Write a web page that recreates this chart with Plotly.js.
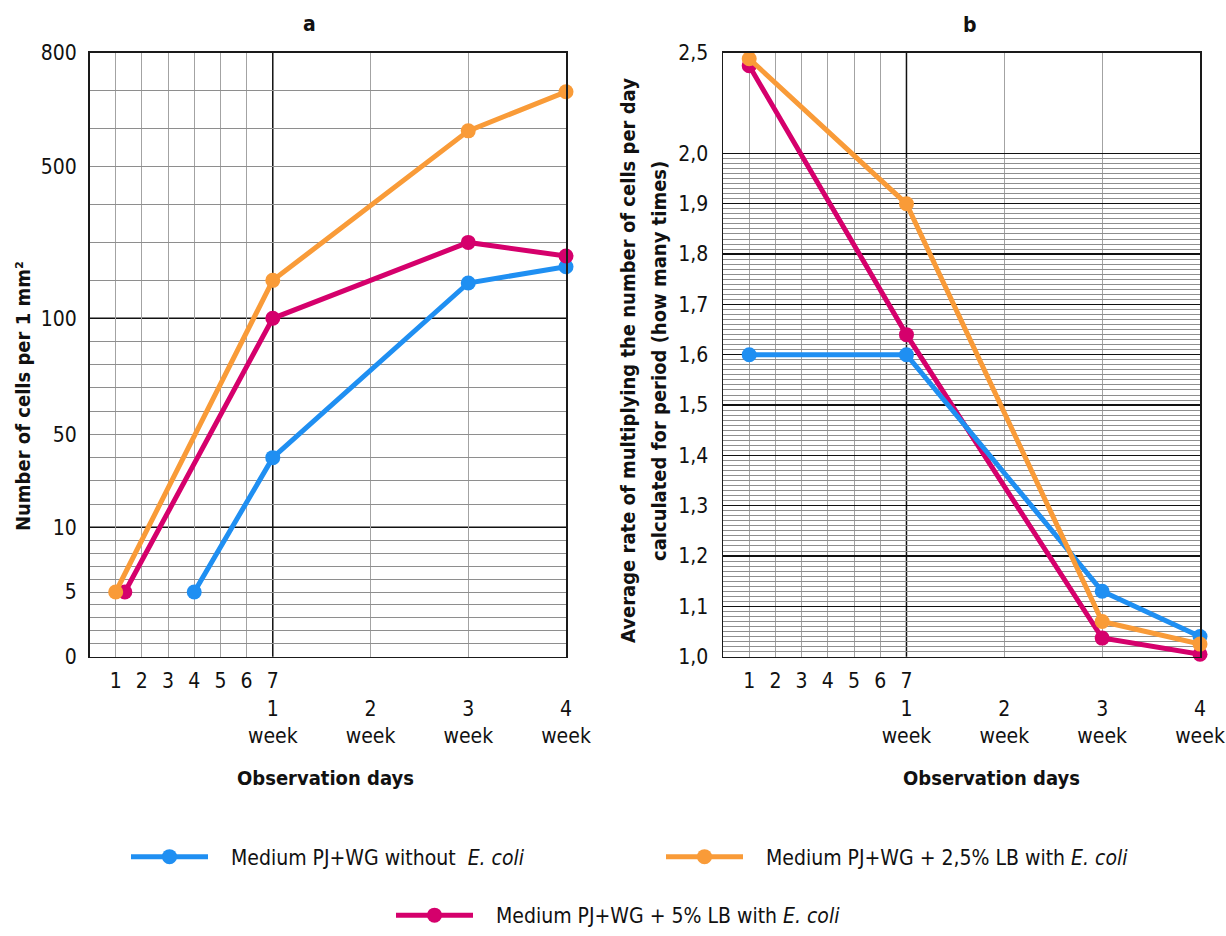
<!DOCTYPE html>
<html><head><meta charset="utf-8">
<script src="https://cdn.plot.ly/plotly-3.0.1.min.js"></script>
<style>html,body{margin:0;padding:0;background:#fff}#chart{width:1226px;height:936px}</style>
</head><body><div id="chart"></div>
<script>
// ---------- data ----------
const dayTicks = [1, 2, 3, 4, 5, 6, 7];
const weekNumbers = ['1', '2', '3', '4'];
const weekDays = [7, 14, 21, 28];
const seriesNames = [
  'Medium PJ+WG without  <i>E. coli</i>',
  'Medium PJ+WG + 2,5% LB with <i>E. coli</i>',
  'Medium PJ+WG + 5% LB with <i>E. coli</i>'
];
const colors = ['#1f8ff2', '#f99b38', '#d5006c'];

// panel a: number of cells per 1 mm2
const aBlueDays = [4, 7, 21, 28];
const aBlueCells = [5, 40, 193, 236];
const aOrangeDays = [1, 7, 21, 28];
const aOrangeCells = [5, 200, 594, 697];
const aMagentaDays = [1.35, 7, 21, 28];
const aMagentaCells = [5, 100, 300, 264];
const aYTickValues = [0, 5, 10, 50, 100, 500, 800];

// panel b: average rate of multiplying per day
const bBlueDays = [1, 7, 21, 28];
const bBlueRate = [1.6, 1.6, 1.13, 1.04];
const bOrangeDays = [1, 7, 21, 28];
const bOrangeRate = [2.47, 1.9, 1.07, 1.025];
const bMagentaDays = [1, 7, 21, 28];
const bMagentaRate = [2.435, 1.64, 1.037, 1.005];
const bYTickValues = [1.0, 1.1, 1.2, 1.3, 1.4, 1.5, 1.6, 1.7, 1.8, 1.9, 2.0, 2.5];

// ---------- scales (the chart uses broken, piecewise axes) ----------
const WEEK_UNIT = 3.733;            // width of one week relative to one day
function xPos(d) { return d <= 7 ? d : 7 + (d - 7) / 7 * WEEK_UNIT; }
function piecewise(breaks, lens) {
  return function (v) {
    for (let i = 1; i < breaks.length; i++) {
      if (v <= breaks[i] || i === breaks.length - 1) {
        return lens[i - 1] + (v - breaks[i - 1]) / (breaks[i] - breaks[i - 1]) * (lens[i] - lens[i - 1]);
      }
    }
  };
}
const aScale = piecewise([0, 10, 100, 800], [0, 129.4, 338.4, 604]);
const bScale = piecewise([1, 2, 2.5], [0, 502.4, 603]);

// minor grid values
const aMinor = [];
for (let v = 1; v < 10; v++) aMinor.push(v);
for (let v = 20; v < 100; v += 10) aMinor.push(v);
for (let v = 200; v < 800; v += 100) aMinor.push(v);
const bMinor = [];
for (let i = 101; i < 200; i++) if (i % 10) bMinor.push(i / 100);
const xMinorDays = [1, 2, 3, 4, 5, 6, 14, 21];

// x tick labels: days 1..7 on the first line, weeks on two lines beneath
const xTickVals = dayTicks.map(xPos).concat(weekDays.slice(1).map(xPos));
const xTickText = dayTicks.map(d => d === 7 ? '7<br>' + weekNumbers[0] + '<br>week' : String(d))
  .concat(weekNumbers.slice(1).map(w => '\u00a0<br>' + w + '<br>week'));

const fontFamily = '"DejaVu Sans Condensed", "DejaVu Sans", sans-serif';
const W = 1226, H = 936;
const px = x => x / W, py = y => 1 - y / H;
const xDomA = [px(89.5), px(566)], xDomB = [px(723), px(1200)];
const yDom = [py(656.7), py(52.7)];
const xRange = [0, xPos(28)];
const tickFont = { family: fontFamily, size: 21, color: '#111' };
const GRID = '#a3a3a3', HGRID = '#8e8e8e', DARK = '#111';

function dayAxis(domain, anchor) {
  return {
    domain, anchor, range: xRange, fixedrange: true,
    tickmode: 'array', tickvals: xTickVals, ticktext: xTickText, tickangle: 0,
    showgrid: false,
    minor: { tickmode: 'array', tickvals: xMinorDays.map(xPos), showgrid: true, gridcolor: GRID, gridwidth: 1, ticks: '' },
    ticks: '', ticklen: 0, showline: true, mirror: true, linecolor: '#1a1a1a', linewidth: 1.5, zeroline: false,
    tickfont: tickFont, ticklabelstandoff: 5
  };
}

function trace(days, vals, scale, ci, xa, ya, show, legend) {
  return {
    type: 'scatter', mode: 'lines+markers',
    x: days.map(xPos), y: vals.map(scale),
    xaxis: xa, yaxis: ya,
    name: '\u00a0\u00a0\u00a0' + seriesNames[ci], showlegend: show, legend: legend,
    line: { color: colors[ci], width: 5 },
    marker: { color: colors[ci], size: 15 },
    hoverinfo: 'skip', cliponaxis: false
  };
}

const data = [
  trace(aBlueDays, aBlueCells, aScale, 0, 'x', 'y', true, 'legend'),
  trace(aMagentaDays, aMagentaCells, aScale, 2, 'x', 'y', true, 'legend3'),
  trace(aOrangeDays, aOrangeCells, aScale, 1, 'x', 'y', true, 'legend2'),
  trace(bMagentaDays, bMagentaRate, bScale, 2, 'x2', 'y2', false, 'legend3'),
  trace(bBlueDays, bBlueRate, bScale, 0, 'x2', 'y2', false, 'legend'),
  trace(bOrangeDays, bOrangeRate, bScale, 1, 'x2', 'y2', false, 'legend2')
];

const legendBase = {
  orientation: 'h', xanchor: 'left', yanchor: 'middle', bgcolor: 'rgba(0,0,0,0)',
  font: { family: fontFamily, size: 21, color: '#111' }, itemwidth: 77
};

const darkLine = (xref, yref, x0, x1, y0, y1) => ({
  type: 'line', xref, yref, x0, x1, y0, y1, layer: 'below', line: { color: DARK, width: 1.5 }
});
const ann = (text, x, y, size, angle) => ({
  text, x: px(x), y: py(y), xref: 'paper', yref: 'paper', xanchor: 'center', yanchor: 'middle',
  showarrow: false, textangle: angle || 0, font: { family: fontFamily, size, color: '#111' }
});

const layout = {
  width: W, height: H, margin: { l: 0, r: 0, t: 0, b: 0 },
  paper_bgcolor: '#fff', plot_bgcolor: 'rgba(0,0,0,0)',
  font: { family: fontFamily, color: '#111' },
  xaxis: dayAxis(xDomA, 'y'),
  xaxis2: dayAxis(xDomB, 'y2'),
  yaxis: {
    domain: yDom, anchor: 'x', range: [0, 604], fixedrange: true,
    tickmode: 'array', tickvals: aYTickValues.map(aScale), ticktext: aYTickValues.map(String),
    showgrid: false,
    minor: { tickmode: 'array', tickvals: aMinor.map(aScale), showgrid: true, gridcolor: HGRID, gridwidth: 1, ticks: '' },
    ticks: '', ticklen: 0, showline: true, mirror: true, linecolor: '#1a1a1a', linewidth: 1.5, zeroline: false,
    tickfont: tickFont, ticklabelstandoff: 7
  },
  yaxis2: {
    domain: yDom, anchor: 'x2', range: [0, 603], fixedrange: true,
    tickmode: 'array', tickvals: bYTickValues.map(bScale),
    ticktext: bYTickValues.map(v => v.toFixed(1).replace('.', ',')),
    showgrid: true, gridcolor: DARK, gridwidth: 1.4,
    minor: { tickmode: 'array', tickvals: bMinor.map(bScale), showgrid: true, gridcolor: HGRID, gridwidth: 1, ticks: '' },
    ticks: '', ticklen: 0, showline: true, mirror: true, linecolor: '#1a1a1a', linewidth: 1.5, zeroline: false,
    tickfont: tickFont, ticklabelstandoff: 9
  },
  shapes: [
    darkLine('x domain', 'y', 0, 1, aScale(10), aScale(10)),
    darkLine('x domain', 'y', 0, 1, aScale(100), aScale(100)),
    darkLine('x', 'y domain', xPos(7), xPos(7), 0, 1),
    darkLine('x2', 'y2 domain', xPos(7), xPos(7), 0, 1)
  ],
  legend: Object.assign({}, legendBase, { x: px(126), y: py(857) }),
  legend2: Object.assign({}, legendBase, { x: px(661), y: py(857) }),
  legend3: Object.assign({}, legendBase, { x: px(391), y: 0, yanchor: 'bottom' }),
  annotations: [
    ann('<b>a</b>', 309, 24, 21),
    ann('<b>b</b>', 970, 25, 21),
    ann('<b>Number of cells per 1 mm²</b>', 23, 396, 20, -90),
    ann('<b>Average rate of multiplying the number of cells per day</b>', 628, 361, 20, -90),
    ann('<b>calculated for period (how many times)</b>', 659, 361, 20, -90),
    ann('<b>Observation days</b>', 326, 778, 20),
    ann('<b>Observation days</b>', 991, 778, 20)
  ]
};

Plotly.newPlot('chart', data, layout, { staticPlot: true, displayModeBar: false });
</script></body></html>
